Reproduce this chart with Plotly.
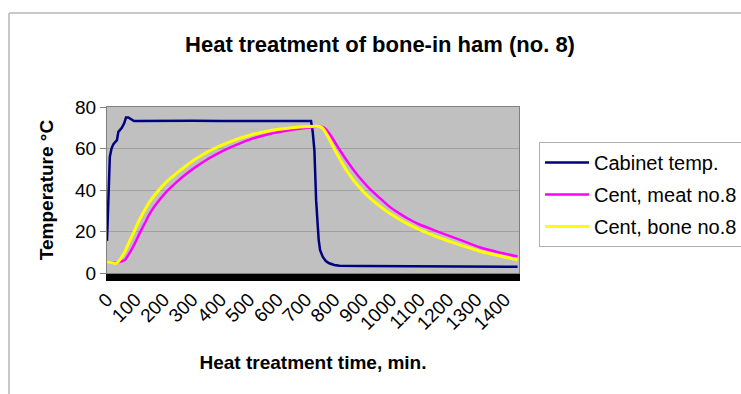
import plotly.graph_objects as go

# ---- data ----
cab_t = [0, 5, 10, 16, 22, 28, 35, 40, 46, 52, 60, 67, 75, 82, 88, 95, 105, 150, 200, 300,
         400, 500, 600, 700, 718, 724, 730, 736, 740, 745, 750, 759, 770, 782, 800, 818,
         900, 1000, 1100, 1200, 1300, 1400, 1445]
cab_v = [15.5, 40, 56, 60, 62, 63, 64, 68, 69, 70, 72, 75, 75, 74.5, 74, 73.2, 73.2, 73.3,
         73.2, 73.4, 73.3, 73.4, 73.4, 73.4, 73.3, 68, 59, 35, 25, 16, 11, 7.9, 5.8, 4.7,
         3.9, 3.5, 3.4, 3.3, 3.2, 3.1, 3.0, 3.0, 3.0]

meat_t = [0, 20, 40, 63, 80, 98, 115, 133, 150, 168, 204, 240, 274, 310, 344, 379, 432, 502,
          572, 642, 712, 745, 760, 770, 782, 800, 818, 853, 885, 923, 960, 993, 1030, 1063,
          1098, 1150, 1192, 1250, 1309, 1380, 1445]
meat_v = [5.4, 5.0, 5.2, 6.3, 9.8, 14.3, 19.2, 24.0, 28.5, 32.3, 38.4, 43.2, 47.2, 50.9,
          54.0, 56.8, 60.4, 64.3, 67.0, 68.8, 70.1, 70.6, 70.3, 69.3, 67.3, 63.5, 59.5,
          52.4, 46.6, 40.8, 36.1, 32.1, 28.6, 25.9, 23.5, 20.7, 18.5, 15.6, 12.5, 9.9, 8.0]

bone_t = [0, 16, 30, 40, 63, 80, 98, 115, 133, 150, 168, 204, 240, 274, 310, 344, 361, 432,
          502, 572, 642, 712, 747, 757, 767, 782, 800, 818, 835, 853, 885, 923, 960, 993,
          1030, 1063, 1098, 1150, 1192, 1250, 1309, 1380, 1445]
bone_v = [5.4, 5.0, 4.6, 5.5, 10.3, 15.5, 20.7, 25.8, 30.4, 34.3, 37.6, 43.2, 47.5, 51.2,
          54.8, 57.6, 58.9, 63.2, 66.4, 68.6, 69.9, 70.6, 70.6, 70.0, 68.3, 64.5, 59.8,
          55.3, 51.2, 47.4, 41.8, 36.4, 32.2, 28.9, 25.8, 23.3, 21.0, 18.0, 15.9, 13.2,
          10.6, 8.3, 6.4]

series_names = ["Cabinet temp.", "Cent, meat no.8", "Cent, bone no.8"]
x_ticks = list(range(0, 1500, 100))
y_ticks = [0, 20, 40, 60, 80]

# ---- layout geometry (pixels) ----
W, H = 741, 394
L, R, T, B = 107, 519, 107, 273
pw, ph = R - L, B - T


def px(xp):
    return (xp - L) / pw


def py(yp):
    return (B - yp) / ph


FONT = "Liberation Sans, Arial, sans-serif"
FS = 19

fig = go.Figure()
fig.add_trace(go.Scatter(x=cab_t, y=cab_v, mode="lines", name=series_names[0],
                         line=dict(color="#000080", width=2.5), legendgroup="a"))
fig.add_trace(go.Scatter(x=meat_t, y=meat_v, mode="lines", name=series_names[1],
                         line=dict(color="#FF00FF", width=2.5, shape="spline", smoothing=0.5),
                         legendgroup="b"))
fig.add_trace(go.Scatter(x=bone_t, y=bone_v, mode="lines", name=series_names[2],
                         line=dict(color="#FFFF00", width=3, shape="spline", smoothing=0.5),
                         legendgroup="c"))

fig.update_layout(
    width=W, height=H,
    margin=dict(l=L, r=W - R, t=T, b=H - B, autoexpand=False),
    paper_bgcolor="white",
    plot_bgcolor="#c0c0c0",
    font=dict(family=FONT, size=FS, color="black"),
    title=dict(text="<b>Heat treatment of bone-in ham (no. 8)</b>",
               x=380 / W, xref="container", xanchor="center",
               y=1 - 44 / H, yref="container", yanchor="middle",
               font=dict(size=22, family=FONT)),
    showlegend=True,
    legend=dict(x=px(539), y=py(142), xanchor="left", yanchor="top",
                bgcolor="white", bordercolor="#b0b0b0", borderwidth=1,
                font=dict(size=20, family=FONT), traceorder="grouped",
                tracegroupgap=3, itemwidth=44),
    xaxis=dict(range=[0, 1450], tickmode="array", tickvals=x_ticks,
               ticktext=[str(v) for v in x_ticks], tickangle=-45,
               ticks="outside", ticklen=7, tickcolor="black", tickwidth=1,
               minor=dict(dtick=3, tick0=0, ticks="outside", ticklen=7,
                          tickcolor="black", tickwidth=1.5, showgrid=False),
               showgrid=False, zeroline=False, showline=True, linecolor="#808080",
               mirror=True, tickfont=dict(size=FS),
               title=dict(text="<b>Heat treatment time, min.</b>", font=dict(size=FS),
                          standoff=22)),
    yaxis=dict(range=[0, 80], tickmode="array", tickvals=y_ticks,
               ticks="outside", ticklen=6, tickcolor="#808080",
               showgrid=True, gridcolor="#a0a0a0", gridwidth=1, zeroline=False,
               showline=True, linecolor="#808080", mirror=True,
               tickfont=dict(size=FS),
               title=dict(text="<b>Temperature °C</b>", font=dict(size=FS), standoff=16)),
    shapes=[
        dict(type="line", xref="paper", yref="paper", x0=px(9), x1=px(9),
             y0=py(13), y1=py(H + 5), line=dict(color="#c8c8c8", width=2)),
        dict(type="line", xref="paper", yref="paper", x0=px(9), x1=px(W + 5),
             y0=py(13), y1=py(13), line=dict(color="#c8c8c8", width=2)),
    ],
)

fig.write_html("out.html")
